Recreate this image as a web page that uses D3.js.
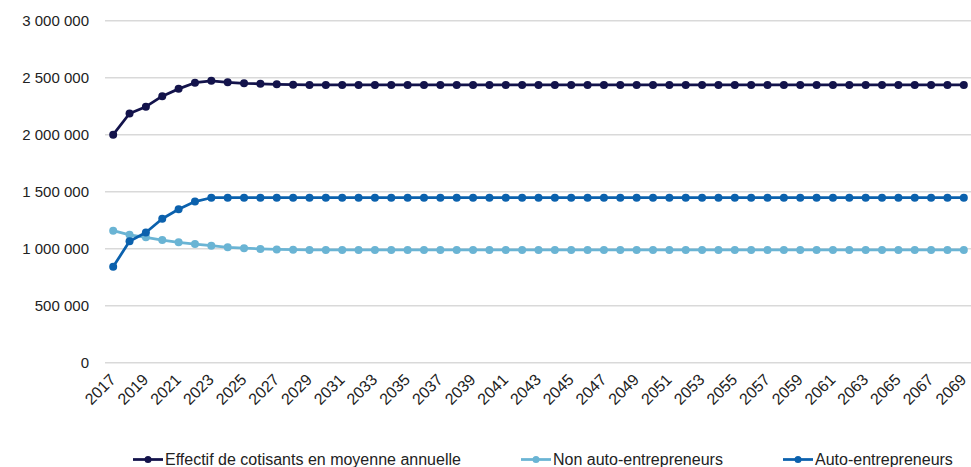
<!DOCTYPE html>
<html>
<head>
<meta charset="utf-8">
<script src="https://cdn.jsdelivr.net/npm/d3@7"></script>
<style>
  html, body { margin: 0; padding: 0; background: #fff; }
  svg { display: block; font-family: "Liberation Sans", Arial, sans-serif; }
</style>
</head>
<body>
<svg id="chart" width="971" height="467"></svg>
<script>
// Years of the projection
const years = d3.range(2017, 2070);

// Annual average number of contributors (total)
const effectif = [
  2000000, 2186000, 2246000, 2338000, 2402000, 2456000, 2473000, 2460000,
  2451000, 2446000, 2442000, 2439000,
  ...Array(41).fill(2437000)
];

// Non auto-entrepreneurs
const nonAuto = [
  1158000, 1122000, 1100000, 1076000, 1056000, 1041000, 1026000, 1012000,
  1004000, 998000, 994000, 991000,
  ...Array(41).fill(989000)
];

// Auto-entrepreneurs
const auto = [
  842000, 1065000, 1142000, 1263000, 1346000, 1413000, 1447000, 1448000,
  1448000, 1448000, 1448000, 1448000,
  ...Array(41).fill(1448000)
];

const yTicks = [0, 500000, 1000000, 1500000, 2000000, 2500000, 3000000];
const xTickYears = years.filter(y => (y - 2017) % 2 === 0);

const seriesNames = [
  "Effectif de cotisants en moyenne annuelle",
  "Non auto-entrepreneurs",
  "Auto-entrepreneurs"
];
const seriesColors = ["#13134b", "#6ab4d4", "#0b61ad"];
const seriesValues = [effectif, nonAuto, auto];

const svg = d3.select("#chart");

const plot = { left: 105, right: 972, top: 20.7, bottom: 362.7 };

const x = d3.scalePoint()
  .domain(years)
  .range([plot.left, plot.right])
  .padding(0.5);

const y = d3.scaleLinear()
  .domain([0, 3000000])
  .range([plot.bottom, plot.top]);

const fmt = v => d3.format(",")(v).replace(/,/g, " ");

// Horizontal gridlines
svg.append("g")
  .selectAll("line")
  .data(yTicks)
  .join("line")
  .attr("x1", plot.left)
  .attr("x2", plot.right)
  .attr("y1", d => y(d))
  .attr("y2", d => y(d))
  .attr("stroke", "#d9d9d9")
  .attr("stroke-width", 1.5);

// Y axis labels
const yAxis = d3.axisLeft(y)
  .tickValues(yTicks)
  .tickFormat(fmt)
  .tickSize(0)
  .tickPadding(0);
const gy = svg.append("g")
  .attr("transform", `translate(89,0)`)
  .call(yAxis);
gy.select(".domain").remove();
gy.selectAll("text")
  .attr("font-size", 15)
  .attr("fill", "#222")
  .attr("font-family", "Liberation Sans, Arial, sans-serif");

// X axis labels (every other year, rotated)
const xAxis = d3.axisBottom(x)
  .tickValues(xTickYears)
  .tickSize(0)
  .tickPadding(0);
const gx = svg.append("g")
  .attr("transform", `translate(0,${plot.bottom})`)
  .call(xAxis);
gx.select(".domain").remove();
gx.selectAll("text")
  .attr("font-size", 16)
  .attr("fill", "#222")
  .attr("font-family", "Liberation Sans, Arial, sans-serif")
  .attr("text-anchor", "end")
  .attr("dy", null)
  .attr("y", 0)
  .attr("transform", "translate(3,18) rotate(-45)");

// Series lines and markers
const line = d3.line()
  .x((d, i) => x(years[i]))
  .y(d => y(d));

seriesValues.forEach((vals, k) => {
  const g = svg.append("g");
  g.append("path")
    .datum(vals)
    .attr("d", line)
    .attr("fill", "none")
    .attr("stroke", seriesColors[k])
    .attr("stroke-width", 2.75)
    .attr("stroke-linejoin", "round");
  g.selectAll("circle")
    .data(vals)
    .join("circle")
    .attr("cx", (d, i) => x(years[i]))
    .attr("cy", d => y(d))
    .attr("r", 4)
    .attr("fill", seriesColors[k]);
});

// Legend
const legendX = [133, 521, 783];
const legendY = 459.5;
const legend = svg.append("g");
seriesNames.forEach((name, k) => {
  const g = legend.append("g").attr("transform", `translate(${legendX[k]},${legendY})`);
  g.append("line")
    .attr("x1", 0).attr("x2", 30)
    .attr("y1", 0).attr("y2", 0)
    .attr("stroke", seriesColors[k])
    .attr("stroke-width", 2.75);
  g.append("circle")
    .attr("cx", 15).attr("cy", 0).attr("r", 3.5)
    .attr("fill", seriesColors[k]);
  g.append("text")
    .attr("x", 32)
    .attr("y", 5.5)
    .attr("font-size", 16)
    .attr("fill", "#222")
    .text(name);
});
</script>
</body>
</html>
